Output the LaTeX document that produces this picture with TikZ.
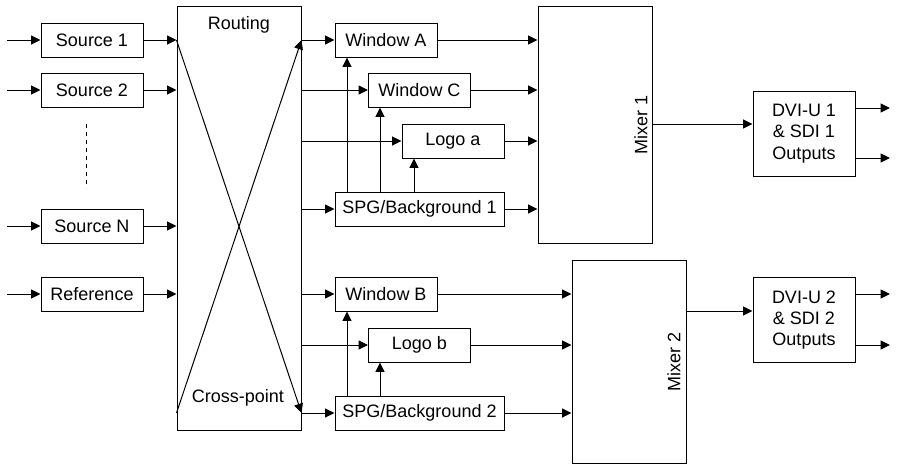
\documentclass[tikz,border=0pt]{standalone}
\usepackage{fontspec}
\setmainfont{Liberation Sans}
\usetikzlibrary{arrows.meta}

\tikzset{every picture/.style={line width=0.75pt}}
\tikzset{
  txt/.style={inner sep=0.75pt, font=\fontsize{13.5}{16}\selectfont},
  blk/.style={draw, txt, inner sep=0pt, minimum width=76.5pt, minimum height=25.5pt},
  arr/.style={-{Triangle[length=7pt,width=6.75pt]}},
}

\begin{document}
\begin{tikzpicture}[x=0.75pt,y=0.75pt,yscale=-1,xscale=1]
\useasboundingbox (0,0) rectangle (897,464);

%Shapes
\node [blk] (src1) at (92,40) {Source 1};
\node [blk] (src2) at (92,90) {Source 2};
\node [blk] (srcN) at (92,226) {Source N};
\node [blk] (ref) at (92,294) {Reference};
\node [blk, minimum width=93pt, minimum height=318pt] (rout) at (239,218) {};
\node [blk] (winA) at (386,40) {Window A};
\node [blk] (winC) at (419.5,90) {Window C};
\node [blk] (logoa) at (453,141) {Logo a};
\node [blk, minimum width=126.75pt] (spg1) at (419.5,209) {SPG/Background 1};
\node [blk] (winB) at (386,294) {Window B};
\node [blk] (logob) at (419.5,345) {Logo b};
\node [blk, minimum width=126.75pt] (spg2) at (419.5,413) {SPG/Background 2};
\node [blk, minimum width=85.5pt, minimum height=177.75pt] (mix1) at (595,124.5) {};
\node [blk, minimum width=85.5pt, minimum height=152.25pt] (mix2) at (629,361.5) {};
\node [blk, minimum height=63.75pt, align=center] (out1) at (804,133.5) {DVI-U 1\\\& SDI 1\\Outputs};
\node [blk, minimum height=63.75pt, align=center] (out2) at (804,320) {DVI-U 2\\\& SDI 2\\Outputs};

% Text Node
\node [txt] (routlbl) at (239,25) {Routing};
% Text Node
\node [txt] (crosslbl) at (238,398) {Cross-point};
% Text Node
\node [txt, rotate=90] (mix1lbl) at (641,125) {Mixer 1};
% Text Node
\node [txt, rotate=90] (mix2lbl) at (674,362) {Mixer 2};

%Free ends and taps
\coordinate (in) at (7,0);
\coordinate (end) at (890,0);
\coordinate (tapA) at (347,0);
\coordinate (tapC) at (380,0);
\coordinate (tapL) at (414,0);
\coordinate (xtop) at (0,40);
\coordinate (xbot) at (0,413);

%Straight Lines
\foreach \s in {src1,src2,srcN,ref}{
  \draw [arr] (in |- \s.west) -- (\s.west);
  \draw [arr] (\s.east) -- (rout.west |- \s.east);
}
\draw [dashed] (86,124) -- (86,188);

%Cross lines
\draw [arr] (rout.west |- xtop) -- (rout.east |- xbot);
\draw [arr] (rout.west |- xbot) -- (rout.east |- xtop);

%Routing outputs
\foreach \b in {winA,winC,logoa,spg1,winB,logob,spg2}{
  \draw [arr] (rout.east |- \b.west) -- (\b.west);
}
\foreach \b in {winA,winC,logoa,spg1}{
  \draw [arr] (\b.east) -- (mix1.west |- \b.east);
}
\foreach \b in {winB,logob,spg2}{
  \draw [arr] (\b.east) -- (mix2.west |- \b.east);
}

%Background taps
\draw [arr] (spg1.north -| tapA) -- (winA.south -| tapA);
\draw [arr] (spg1.north -| tapC) -- (winC.south -| tapC);
\draw [arr] (spg1.north -| tapL) -- (logoa.south -| tapL);
\draw [arr] (spg2.north -| tapA) -- (winB.south -| tapA);
\draw [arr] (spg2.north -| tapC) -- (logob.south -| tapC);

%Mixer outputs
\draw [arr] (mix1.east |- 0,124) -- (out1.west |- 0,124);
\draw [arr] (mix2.east |- 0,311) -- (out2.west |- 0,311);
\draw [arr] (out1.east |- 0,108) -- (end |- 0,108);
\draw [arr] (out1.east |- 0,158) -- (end |- 0,158);
\draw [arr] (out2.east |- 0,294) -- (end |- 0,294);
\draw [arr] (out2.east |- 0,345) -- (end |- 0,345);

\end{tikzpicture}
\end{document}
